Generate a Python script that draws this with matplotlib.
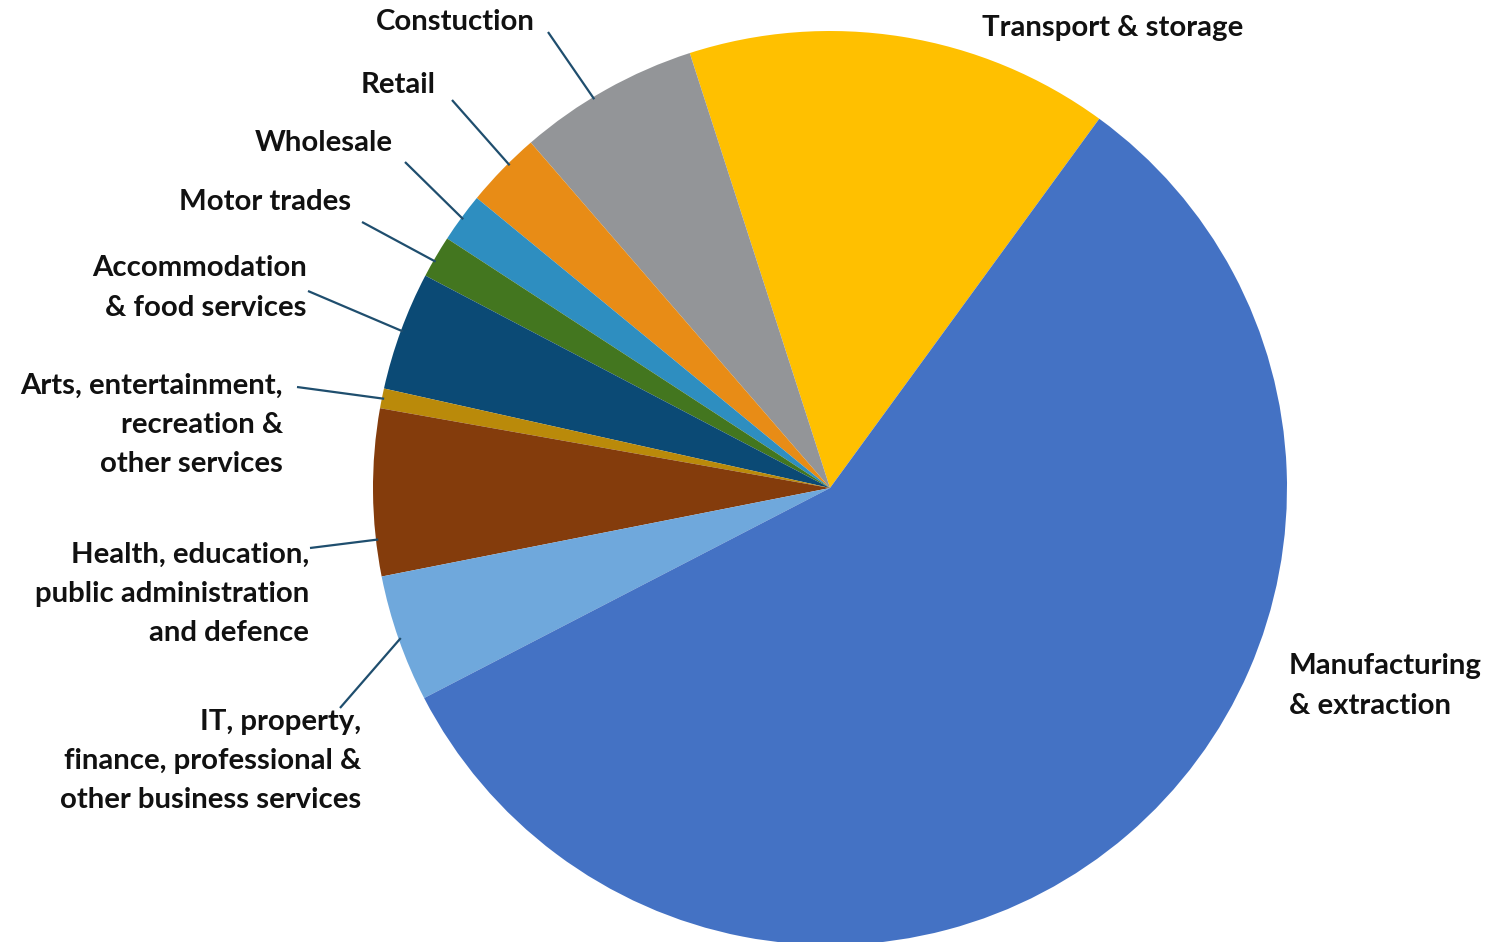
import numpy as np
import matplotlib
matplotlib.use("Agg")
import matplotlib.pyplot as plt

# sectors, counter-clockwise from the top-right edge
sectors = ["Transport & storage", "Constuction", "Retail", "Wholesale", "Motor trades",
           "Accommodation\n& food services",
           "Arts, entertainment,\nrecreation &\nother services",
           "Health, education,\npublic administration\nand defence",
           "IT, property,\nfinance, professional &\nother business services",
           "Manufacturing\n& extraction"]
shares = [15.0, 6.4, 2.7, 1.75, 1.5, 4.2, 0.7, 5.9, 4.5, 57.4]
colors = ["#FFC000", "#939598", "#E88C16", "#2E8EC0", "#43761F",
          "#0B4A75", "#BA8A0A", "#843C0C", "#6FA8DC", "#4472C4"]

W, H = 1506, 942
cx, cy, r = 830, 488, 457

fig = plt.figure(figsize=(W / 100, H / 100), dpi=100)
ax = fig.add_axes([0, 0, 1, 1])

wedges, _ = ax.pie(shares, colors=colors, startangle=53.9, counterclock=True,
                   center=(cx, H - cy), radius=r, wedgeprops=dict(linewidth=0))
ax.set_xlim(0, W)
ax.set_ylim(0, H)
ax.set_aspect("equal")
ax.axis("off")

# label layout: (x, y of block centre in px from top, ha, leader start or None, where on wedge)
layout = [
    (1113, 28, "center", None, 0.5),
    (455, 22, "center", (548, 32), 0.58),
    (398, 85, "center", (452, 100), 0.4),
    (324, 143, "center", (405, 162), 0.5),
    (265, 202, "center", (362, 222), 0.6),
    (307, 288, "right", (308, 291), 0.5),
    (283, 425, "right", (297, 387), 0.5),
    (309, 594, "right", (310, 548), 0.78),
    (361, 761, "right", (340, 708), 0.5),
    (1289, 686, "left", None, 0.5),
]

font = dict(family=["Lato", "DejaVu Sans"], weight="bold", size=21.2, color="#111111")
for name, w, (tx, ty, ha, start, frac) in zip(sectors, wedges, layout):
    ax.text(tx, H - ty, name, ha=ha, va="center", linespacing=1.62, **font)
    if start is not None:
        ang = np.radians(w.theta1 + frac * (w.theta2 - w.theta1))
        ex = cx + r * 0.995 * np.cos(ang)
        ey = (H - cy) + r * 0.995 * np.sin(ang)
        ax.plot([start[0], ex], [H - start[1], ey], color="#1F4E6E", lw=1.6,
                solid_capstyle="butt")

fig.savefig("out.png", dpi=100)
